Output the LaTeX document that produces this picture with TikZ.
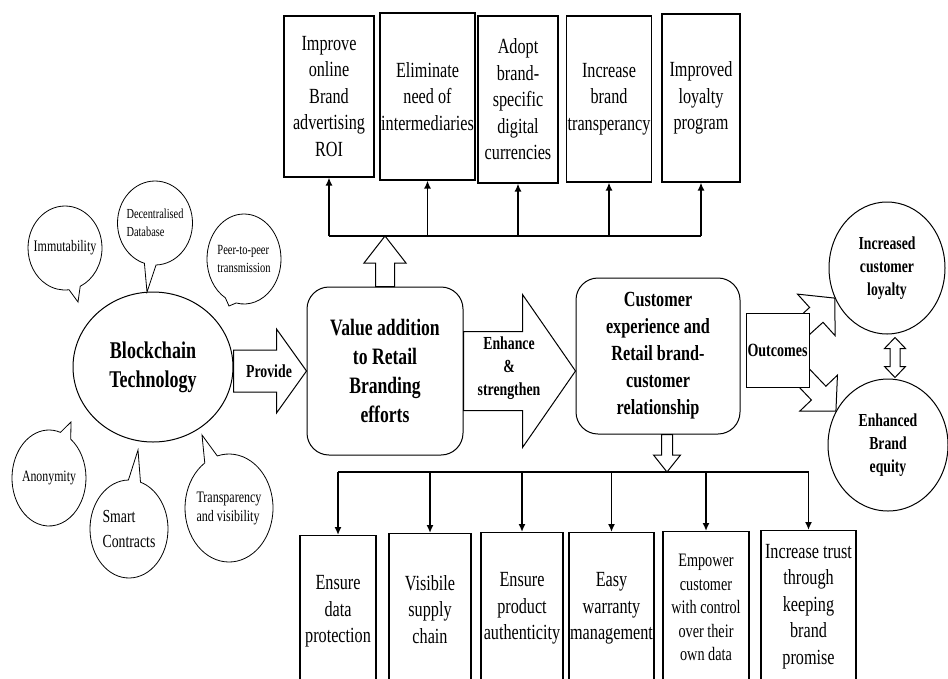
\documentclass[tikz,border=0pt]{standalone}
\usepackage{fontspec}
\setmainfont{Liberation Serif}[FakeStretch=0.75]
\usetikzlibrary{calc, arrows.meta, shapes.geometric, shapes.callouts, backgrounds}

% hollow block arrow: tail, tip, shaft half width, head half width, head length
\newcommand{\harrow}[5]{%
  \coordinate (hb) at ($(#2)!#5!(#1)$);
  \draw[fill=white, line width=1pt]
    ($(#1)!#3!90:(#2)$) -- ($(hb)!#3!90:(#2)$) -- ($(hb)!#4!90:(#2)$) -- (#2)
    -- ($(hb)!#4!-90:(#2)$) -- ($(hb)!#3!-90:(#2)$) -- ($(#1)!#3!-90:(#2)$) -- cycle;}
% same, with a head at both ends
\newcommand{\dharrow}[5]{%
  \coordinate (ha) at ($(#1)!#5!(#2)$);
  \coordinate (hb) at ($(#2)!#5!(#1)$);
  \draw[fill=white, line width=1pt]
    (#1) -- ($(ha)!#4!90:(#2)$) -- ($(ha)!#3!90:(#2)$) -- ($(hb)!#3!-90:(#1)$)
    -- ($(hb)!#4!-90:(#1)$) -- (#2) -- ($(hb)!#4!90:(#1)$) -- ($(hb)!#3!90:(#1)$)
    -- ($(ha)!#3!-90:(#2)$) -- ($(ha)!#4!-90:(#2)$) -- cycle;}

\begin{document}
\begin{tikzpicture}[x=1pt, y=-1pt,
    txt/.style={font=\fontsize{21.6}{26.5}\selectfont, align=center},
    topbox/.style={draw, line width=1.1pt, txt, inner sep=1pt},
    botbox/.style={draw, line width=1.1pt, txt, inner sep=1pt, anchor=north, minimum height=152},
    bubble/.style={ellipse callout, draw, line width=0.8pt, align=left, inner xsep=-9pt, inner ysep=-4pt, callout pointer arc=18},
    roundbox/.style={draw, rounded corners=22pt, line width=1pt, align=center},
    oval/.style={ellipse, draw, line width=1pt, align=center, inner sep=0pt, font=\bfseries\fontsize{18.3}{23}\selectfont},
    bus/.style={line width=2.6pt, line cap=square},
    feed/.style={line width=1.6pt, -{Latex[length=8pt, width=7pt]}}]
  \useasboundingbox (0,0) rectangle (948,678);
  \clip (0,0) rectangle (948,678);

  % technology and its features
  \node[oval, minimum width=160, minimum height=150, font=\bfseries\fontsize{24}{29}\selectfont] (bc) at (153,367) {Blockchain\\Technology};
  \node[bubble, minimum width=74, minimum height=84, font=\fontsize{16}{19}\selectfont,
    callout absolute pointer={(78,302)}] (imm) at (65,248) {Immutability};
  \node[bubble, minimum width=75, minimum height=84, font=\fontsize{13.8}{18}\selectfont,
    callout absolute pointer={(147,292)}] (dec) at (155,223) {Decentralised\\Database};
  \node[bubble, minimum width=74, minimum height=90, font=\fontsize{14}{18}\selectfont,
    callout absolute pointer={(229,306)}] (p2p) at (244,259) {Peer-to-peer\\transmission};
  \node[bubble, minimum width=74, minimum height=96, font=\fontsize{15.8}{19}\selectfont,
    callout absolute pointer={(71,422)}] (ano) at (49,478) {Anonymity};
  \node[bubble, minimum width=78, minimum height=98, font=\fontsize{18.4}{25}\selectfont,
    callout absolute pointer={(138,450)}] (sc) at (129,529) {Smart\\Contracts};
  \node[bubble, minimum width=88, minimum height=108, font=\fontsize{16}{19}\selectfont,
    callout absolute pointer={(202,435)}] (tv) at (229,508) {Transparency\\and visibility};

  % main chain
  \node[roundbox, minimum width=156, minimum height=168, font=\bfseries\fontsize{23.5}{28.7}\selectfont] (val) at (385,371) {Value addition\\to Retail\\Branding\\efforts};
  \node[roundbox, minimum width=164, minimum height=156, font=\bfseries\fontsize{21.6}{27}\selectfont] (cust) at (658,356) {Customer\\experience and\\Retail brand-\\customer\\relationship};
  \node[draw, fill=white, line width=1pt, minimum width=63, minimum height=74, inner sep=1pt, font=\bfseries\fontsize{18.7}{22}\selectfont] (out) at (777.5,350) {Outcomes};
  \node[oval, minimum width=116, minimum height=132] (loy) at (887,268) {Increased\\customer\\loyalty};
  \node[oval, minimum width=120, minimum height=132] (eq) at (888,445) {Enhanced\\Brand\\equity};

  % top row
  \node[topbox, minimum width=90, minimum height=161] (t1) at (329,96.5) {Improve\\online\\Brand\\advertising\\ROI};
  \node[topbox, minimum width=95, minimum height=167] (t2) at (427.5,96.5) {Eliminate\\need of\\intermediaries};
  \node[topbox, minimum width=80, minimum height=167] (t3) at (518,99.5) {Adopt\\brand-\\specific\\digital\\currencies};
  \node[topbox, minimum width=84, minimum height=166] (t4) at (609,99) {Increase\\brand\\transperancy};
  \node[topbox, minimum width=78, minimum height=168] (t5) at (701,98) {Improved\\loyalty\\program};

  % bottom row
  \node[botbox, minimum width=76] (b1) at (338,535) {Ensure\\data\\protection};
  \node[botbox, minimum width=82] (b2) at (430,533) {Visibile\\supply\\chain};
  \node[botbox, minimum width=82] (b3) at (522,532) {Ensure\\product\\authenticity};
  \node[botbox, minimum width=85] (b4) at (611.5,532) {Easy\\warranty\\management};
  \node[botbox, minimum width=86, font=\fontsize{19}{23.5}\selectfont] (b5) at (706,531) {Empower\\customer\\with control\\over their\\own data};
  \node[botbox, minimum width=95] (b6) at (808.5,530) {Increase trust\\through\\keeping\\brand\\promise};

  % branching lines
  \coordinate (bust) at (0,236);
  \coordinate (busb) at (0,472);
  \draw[bus] (t1.south |- bust) -- (t5.south |- bust);
  \foreach \n in {1,...,5}
    \draw[feed] (t\n.south |- bust) -- (t\n.south);
  \draw[bus] (b1.north |- busb) -- (b6.north |- busb);
  \foreach \n in {1,...,6}
    \draw[feed] (b\n.north |- busb) -- (b\n.north);

  % block arrows
  \harrow{bc.east |- val.west}{val.west}{21pt}{42pt}{30pt}
  \harrow{val.east}{cust.west |- val.east}{39.5pt}{76.5pt}{53pt}
  \harrow{val.north}{val.north |- bust}{9.5pt}{21pt}{27pt}
  \coordinate (ca) at ($(cust.south)+(9,0)$);
  \harrow{ca}{ca |- busb}{5.5pt}{13.5pt}{17pt}
  \begin{scope}[on background layer]
    \harrow{out.center}{loy.210}{10pt}{28pt}{25pt}
    \harrow{out.center}{eq.147}{10pt}{26pt}{25pt}
  \end{scope}
  \coordinate (da) at ($(loy.south)+(8,3)$);
  \coordinate (db) at ($(eq.north)+(7,-1)$);
  \dharrow{da}{db}{5pt}{10.5pt}{11pt}

  \node[font=\bfseries\fontsize{18.4}{22}\selectfont] (prov) at (269,371) {Provide};
  \node[font=\bfseries\fontsize{18.4}{23}\selectfont, align=center] (enh) at (509,368) {Enhance\\\&\\strengthen};
\end{tikzpicture}
\end{document}
